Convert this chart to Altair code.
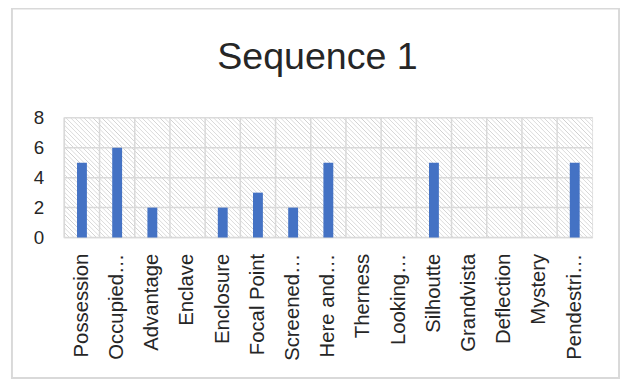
import altair as alt
import pandas as pd

categories = ["Possession", "Occupied…", "Advantage", "Enclave", "Enclosure",
              "Focal Point", "Screened…", "Here and…", "Therness", "Looking…",
              "Silhoutte", "Grandvista", "Deflection", "Mystery", "Pendestri…"]
values = [5, 6, 2, 0, 2, 3, 2, 5, 0, 0, 5, 0, 0, 0, 5]
y_ticks = [0, 2, 4, 6, 8]
title_text = "Sequence 1"

W, H = 534, 121
FONT = "Liberation Sans"
GRID = "#d9d9d9"
TEXT = "#262626"

df = pd.DataFrame({"category": categories, "value": values})
ticks_df = pd.DataFrame({"tick": y_ticks})

# diagonal hatch pattern for the plot background (style only)
N = 145
stops = []
for i in range(N):
    stops += [
        {"offset": i / N, "color": "#ffffff"},
        {"offset": (i + 0.18) / N, "color": "#cfcfcf"},
        {"offset": (i + 0.36) / N, "color": "#ffffff"},
    ]
stops.append({"offset": 1, "color": "#ffffff"})
k = H / W
s = (1 + k) / (1 + k * k)
hatch = {"gradient": "linear", "x1": 0, "y1": 1, "x2": s, "y2": 1 - k * s, "stops": stops}

x_enc = alt.X("category:N", sort=categories,
              scale=alt.Scale(paddingInner=0, paddingOuter=0),
              axis=alt.Axis(title=None, labelAngle=270, labelAlign="right",
                            labelBaseline="middle", labelFontSize=20.5, labelPadding=16,
                            ticks=False, domain=False, grid=False,
                            labelOverlap=False, labelFont=FONT, labelColor=TEXT))
y_scale = alt.Scale(domain=[0, 8])
y_axis = alt.Axis(title=None, values=y_ticks, domain=False, ticks=False,
                  labelFontSize=19, labelPadding=21, grid=False,
                  labelFont=FONT, labelColor=TEXT)

one = pd.DataFrame({"f": [0]})

frame = alt.Chart(one).mark_rect(
    filled=False, stroke=GRID, strokeWidth=2
).encode(x=alt.value(-53), x2=alt.value(561), y=alt.value(-110.5), y2=alt.value(263))

background = alt.Chart(one).mark_rect(fill=hatch).encode(
    x=alt.value(0), x2=alt.value(W), y=alt.value(0), y2=alt.value(H))

hgrid = alt.Chart(ticks_df).mark_rule(color=GRID, strokeWidth=1.5).encode(
    y=alt.Y("tick:Q", scale=y_scale, axis=y_axis))

vgrid = alt.Chart(df).mark_rule(color=GRID, strokeWidth=1.5).encode(
    x=alt.X("category:N", sort=categories, bandPosition=0,
            scale=alt.Scale(paddingInner=0, paddingOuter=0)),
    y=alt.value(0), y2=alt.value(H))

bars = alt.Chart(df).mark_bar(size=10, color="#4472C4").encode(
    x=x_enc,
    y=alt.Y("value:Q", scale=y_scale, axis=y_axis),
)

chart = alt.layer(frame, background, hgrid, vgrid, bars).properties(
    width=W, height=H,
    title=alt.Title(title_text, fontSize=38, font=FONT, color=TEXT,
                    fontWeight="normal", anchor="middle", dx=-11,
                    baseline="alphabetic", offset=-100.5),
    autosize=alt.AutoSizeParams(type="none"),
    padding={"left": 57, "top": 109, "right": 29, "bottom": 143},
).configure_view(stroke=GRID, strokeWidth=1.5)

chart.save("out.html", embed_options={"renderer": "svg", "actions": False})
